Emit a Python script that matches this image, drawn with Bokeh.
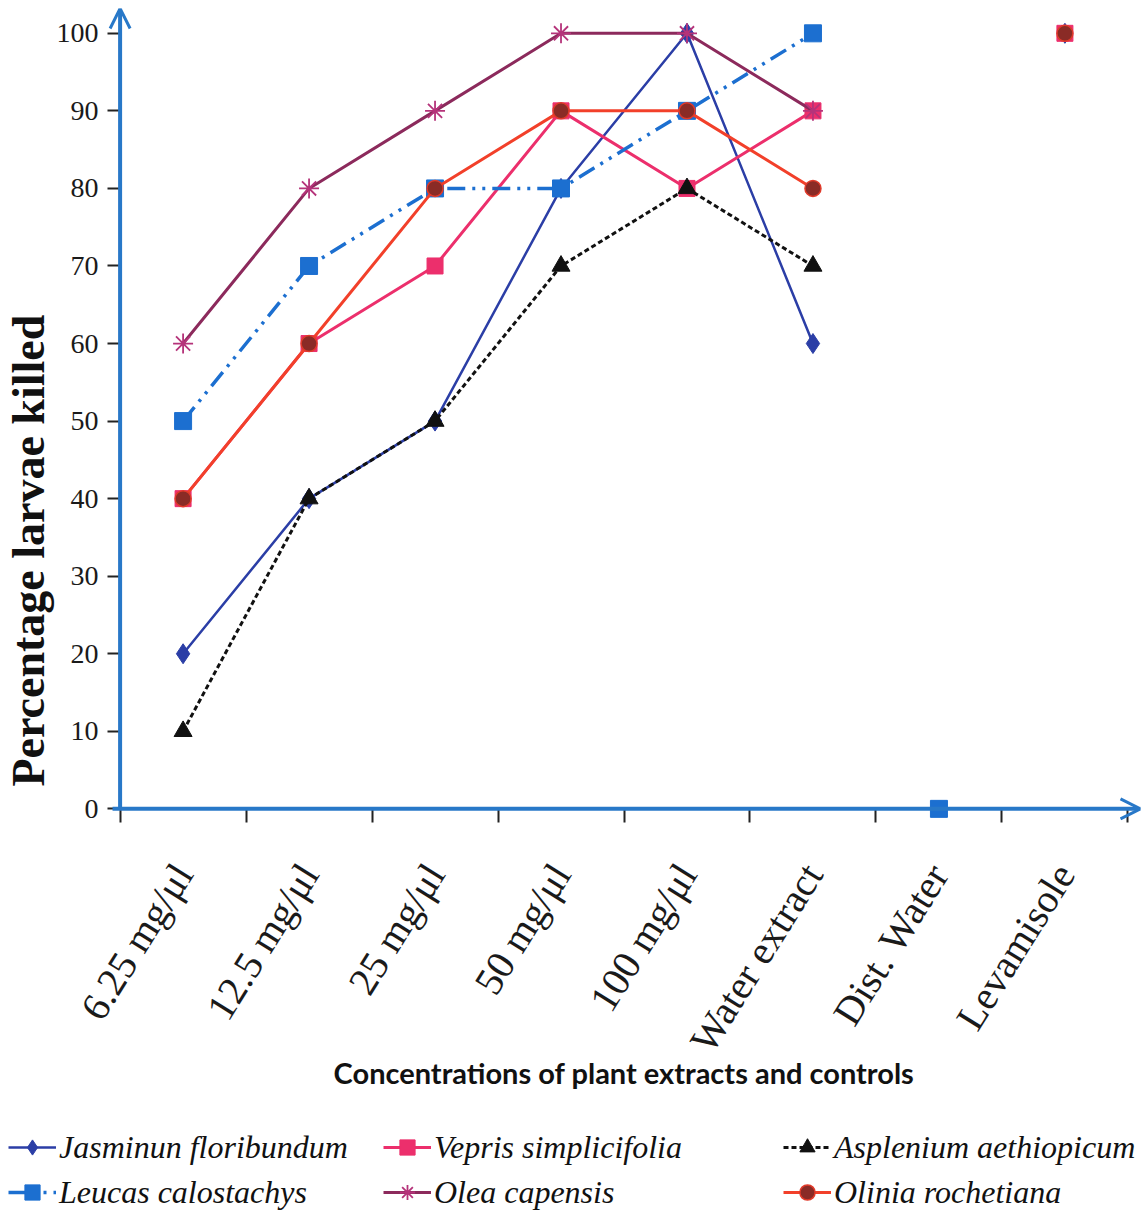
import math
from bokeh.plotting import figure
from bokeh.layouts import column
from bokeh.models import (FixedTicker, Range1d, Arrow, OpenHead, Legend, LegendItem,
                          Title, ColumnDataSource)
from bokeh.embed import file_html
from bokeh.resources import INLINE

categories = ["6.25 mg/μl", "12.5 mg/μl", "25 mg/μl", "50 mg/μl", "100 mg/μl",
              "Water extract", "Dist. Water", "Levamisole"]
y_ticks = [0, 10, 20, 30, 40, 50, 60, 70, 80, 90, 100]

jasminum = [20, 40, 50, 80, 100, 60, None, 100]
vepris = [40, 60, 70, 90, 80, 90, None, 100]
asplenium = [10, 40, 50, 70, 80, 70, None, None]
leucas = [50, 70, 80, 80, 90, 100, 0, None]
olea = [60, 80, 90, 100, 100, 90, None, None]
olinia = [40, 60, 80, 90, 90, 80, None, 100]

N_LINE = 6  # extracts connected by lines; controls shown as separate markers

AXIS_BLUE = "#2878c8"
SERIF = "Liberation Serif"

xs = [i + 0.5 for i in range(len(categories))]
n = len(categories)

p = figure(width=1145, height=1120, output_backend="svg", toolbar_location=None,
           x_range=Range1d(-0.1, n + 0.1), y_range=Range1d(-1.5, 103.2),
           min_border_left=104, min_border_right=5, min_border_top=8,
           min_border_bottom=300)
p.outline_line_color = None
p.xgrid.visible = False
p.ygrid.visible = False
p.background_fill_color = "white"

# x axis (line drawn as an arrow below)
xa = p.xaxis[0]
xa.ticker = FixedTicker(ticks=xs, minor_ticks=list(range(0, n + 1)))
xa.major_label_overrides = {x: c for x, c in zip(xs, categories)}
xa.major_tick_line_color = None
xa.major_tick_in = 0
xa.major_tick_out = 0
xa.minor_tick_in = 12
xa.minor_tick_out = 2
xa.minor_tick_line_color = "#222222"
xa.minor_tick_line_width = 2
xa.axis_line_color = None
xa.major_label_orientation = math.radians(58)
xa.major_label_text_font = SERIF
xa.major_label_text_font_size = "40px"
xa.major_label_text_color = "#1a1a1a"
xa.major_label_standoff = 45
xa.axis_label = "Concentrations of plant extracts and controls"
xa.axis_label_text_font = "Lato"
xa.axis_label_text_font_style = "bold"
xa.axis_label_text_font_size = "29px"
xa.axis_label_text_color = "#111111"
xa.axis_label_standoff = -20

# y axis (line drawn as an arrow below)
ya = p.yaxis[0]
ya.ticker = FixedTicker(ticks=y_ticks)
ya.major_tick_in = 13
ya.major_tick_out = 0
ya.major_tick_line_color = "#222222"
ya.major_tick_line_width = 2
ya.minor_tick_line_color = None
ya.axis_line_color = None
ya.major_label_text_font = SERIF
ya.major_label_text_font_size = "28px"
ya.major_label_text_color = "#1a1a1a"
ya.major_label_standoff = 9

p.add_layout(Title(text="Percentage larvae killed", align="left", offset=34,
                   standoff=0,
                   text_font=SERIF, text_font_style="bold", text_font_size="46px",
                   text_color="#111111"), "left")

# axis shafts with open arrow heads
p.add_layout(Arrow(end=OpenHead(size=20, line_color=AXIS_BLUE, line_width=3),
                   x_start=0, y_start=0, x_end=0, y_end=103.2,
                   line_color=AXIS_BLUE, line_width=4))
p.add_layout(Arrow(end=OpenHead(size=20, line_color=AXIS_BLUE, line_width=3),
                   x_start=-0.06, y_start=0, x_end=n + 0.1, y_end=0,
                   line_color=AXIS_BLUE, line_width=4))


def nanify(v):
    return [float("nan") if a is None else a for a in v]


specs = [
    ("Jasminun floribundum", jasminum, dict(line_color="#2b3ea6", line_width=2.5),
     dict(marker="diamond", size=20, fill_color="#2b3ea6", line_color="#2b3ea6")),
    ("Vepris simplicifolia", vepris, dict(line_color="#ec2f6c", line_width=3),
     dict(marker="square", size=16, fill_color="#ec2f6c", line_color="#ec2f6c")),
    ("Asplenium aethiopicum", asplenium, dict(line_color="#111111", line_width=3, line_dash="5 3"),
     dict(marker="triangle", size=18, fill_color="#111111", line_color="#111111")),
    ("Leucas calostachys", leucas, dict(line_color="#1c6fd0", line_width=3.5, line_dash="18 7 3 7 3 7"),
     dict(marker="square", size=17, fill_color="#1c6fd0", line_color="#1c6fd0")),
    ("Olea capensis", olea, dict(line_color="#8c2a5c", line_width=3),
     dict(marker="asterisk", size=20, fill_color=None, line_color="#b5337a", line_width=1.8)),
    ("Olinia rochetiana", olinia, dict(line_color="#f2402a", line_width=3),
     dict(marker="circle", size=16, fill_color="#8a2b26", line_color="#e03a2a", line_width=1.5)),
]

# legend strip below the chart
q = figure(width=1145, height=97, output_backend="svg", toolbar_location=None,
           x_range=Range1d(1000, 1001), y_range=Range1d(1000, 1001),
           min_border_left=0, min_border_right=0, min_border_top=0, min_border_bottom=0)
q.axis.visible = False
q.grid.visible = False
q.outline_line_color = None
for fig in (p, q):
    try:
        fig.frame_align = False
    except Exception:
        pass

items = []
for name, vals, lkw, mkw in specs:
    src_l = ColumnDataSource(dict(x=xs[:N_LINE], y=nanify(vals[:N_LINE])))
    src_m = ColumnDataSource(dict(x=xs, y=nanify(vals)))
    p.line("x", "y", source=src_l, **lkw)
    p.scatter("x", "y", source=src_m, **mkw)
    ql = q.line("x", "y", source=ColumnDataSource(dict(src_l.data)), **lkw)
    qm = q.scatter("x", "y", source=ColumnDataSource(dict(src_m.data)), **mkw)
    items.append(LegendItem(label=name, renderers=[ql, qm]))

# three legend columns: (Jasminum, Leucas), (Vepris, Olea), (Asplenium, Olinia)
col_x = [8, 383, 783]
for ci, (a, b) in enumerate([(0, 3), (1, 4), (2, 5)]):
    lg = Legend(items=[items[a], items[b]], location=(col_x[ci], 6),
                label_text_font=SERIF, label_text_font_style="italic",
                label_text_font_size="32px", label_text_color="#111111",
                glyph_width=48, glyph_height=38, label_height=38, spacing=7,
                border_line_color=None, background_fill_alpha=0,
                margin=0, padding=0, label_standoff=3)
    q.add_layout(lg, "center")

open("out.html", "w").write(file_html(column(p, q, spacing=0), INLINE))
